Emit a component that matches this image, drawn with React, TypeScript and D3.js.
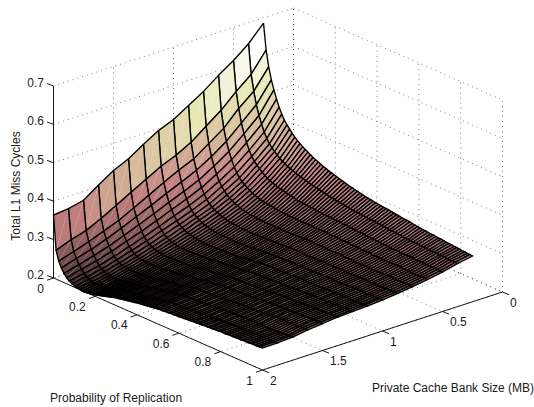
import React from 'react'
import * as d3 from 'd3'

const width = 534
const height = 407

// bank sizes of the mesh rows, MB
const bankSizes = [0.25, 0.375, 0.5, 0.625, 0.75, 0.875, 1, 1.125, 1.25, 1.375, 1.5, 1.625, 1.75, 1.875, 2]
// replication probability steps, numbered 0..80 over 80
const stepCount = 80

const cyclesAt025 = [
  .686,.619,.578,.547,.524,.503,.485,.470,.457,.448,.440,.432,.425,.419,.414,.409,.405,
  .401,.397,.393,.390,.387,.384,.381,.379,.376,.374,.372,.370,.368,.366,.364,.362,
  .360,.359,.357,.356,.354,.353,.351,.350,.349,.348,.347,.346,.345,.344,.344,.343,
  .342,.341,.340,.339,.338,.337,.337,.336,.335,.334,.333,.332,.331,.331,.330,.329,
  .329,.328,.327,.327,.326,.325,.325,.324,.323,.323,.322,.321,.321,.320,.320,.319]
const cyclesAt0375 = [
  .645,.568,.527,.495,.470,.450,.433,.419,.408,.400,.394,.388,.382,.377,.374,.370,.367,
  .365,.362,.360,.358,.356,.354,.352,.350,.349,.347,.346,.345,.343,.342,.340,.339,
  .338,.337,.336,.335,.334,.333,.332,.331,.330,.330,.329,.329,.328,.327,.327,.326,
  .326,.325,.324,.324,.323,.322,.322,.321,.321,.320,.319,.318,.318,.318,.317,.317,
  .317,.316,.316,.316,.315,.315,.315,.315,.314,.314,.314,.313,.313,.313,.312,.312]
const cyclesAt05 = [
  .614,.536,.495,.460,.435,.415,.398,.385,.375,.368,.362,.356,.350,.346,.343,.340,.337,
  .335,.333,.332,.330,.329,.327,.326,.324,.323,.322,.322,.321,.320,.320,.319,.318,
  .318,.317,.317,.317,.316,.316,.315,.315,.315,.314,.314,.313,.313,.312,.312,.311,
  .311,.311,.310,.310,.309,.309,.308,.308,.307,.307,.306,.306,.306,.306,.306,.305,
  .305,.305,.305,.305,.305,.304,.304,.304,.304,.304,.304,.303,.303,.303,.303,.303]
const cyclesAt0625 = [
  .588,.500,.456,.425,.402,.383,.367,.355,.345,.338,.333,.328,.324,.320,.317,.314,.312,
  .311,.310,.309,.308,.307,.306,.305,.304,.304,.304,.303,.303,.303,.303,.302,.302,
  .302,.302,.302,.302,.302,.302,.302,.302,.302,.302,.301,.301,.301,.301,.300,.300,
  .300,.300,.299,.299,.299,.299,.298,.298,.298,.298,.297,.297,.297,.297,.297,.297,
  .297,.297,.297,.297,.297,.297,.296,.296,.296,.296,.296,.296,.296,.296,.296,.296]
const cyclesAt075 = [
  .559,.471,.429,.398,.376,.358,.343,.332,.323,.316,.311,.307,.303,.300,.297,.295,.293,
  .292,.291,.291,.290,.290,.289,.289,.288,.288,.288,.288,.288,.289,.289,.289,.289,
  .289,.289,.290,.290,.290,.290,.291,.291,.291,.291,.291,.291,.291,.290,.290,.290,
  .290,.290,.290,.290,.290,.290,.290,.289,.289,.289,.289,.289,.289,.289,.289,.289,
  .289,.289,.289,.289,.289,.289,.290,.290,.290,.290,.290,.290,.290,.290,.290,.290]
const cyclesAt0875 = [
  .535,.442,.402,.375,.353,.336,.322,.311,.303,.297,.293,.289,.286,.284,.282,.280,.278,
  .278,.277,.277,.276,.276,.276,.275,.275,.275,.276,.276,.276,.277,.277,.278,.278,
  .278,.279,.279,.279,.280,.280,.281,.281,.281,.281,.281,.281,.281,.281,.281,.281,
  .281,.281,.282,.282,.282,.282,.282,.282,.282,.282,.282,.282,.282,.282,.282,.282,
  .282,.283,.283,.283,.283,.283,.284,.284,.284,.284,.284,.285,.285,.285,.285,.285]
const cyclesAt1 = [
  .511,.421,.385,.357,.336,.319,.305,.295,.288,.283,.279,.275,.272,.270,.268,.267,.266,
  .265,.265,.265,.265,.264,.264,.264,.264,.265,.265,.266,.266,.267,.267,.268,.268,
  .269,.269,.270,.271,.271,.272,.272,.273,.273,.273,.273,.274,.274,.274,.274,.274,
  .275,.275,.275,.275,.275,.276,.276,.276,.276,.276,.277,.277,.277,.277,.277,.277,
  .278,.278,.278,.278,.278,.279,.279,.279,.279,.279,.280,.280,.280,.280,.281,.281]
const cyclesAt1125 = [
  .495,.405,.366,.340,.320,.304,.291,.281,.274,.269,.265,.262,.260,.258,.257,.256,.255,
  .254,.254,.254,.254,.254,.254,.255,.255,.256,.256,.257,.257,.258,.258,.259,.260,
  .261,.262,.263,.264,.264,.265,.266,.267,.267,.267,.268,.268,.268,.269,.269,.269,
  .270,.270,.270,.271,.271,.271,.272,.272,.272,.272,.273,.273,.273,.273,.273,.274,
  .274,.274,.274,.275,.275,.275,.275,.276,.276,.276,.276,.277,.277,.277,.278,.278]
const cyclesAt125 = [
  .472,.384,.345,.322,.303,.288,.276,.268,.261,.256,.252,.250,.248,.246,.245,.245,.245,
  .245,.245,.245,.246,.246,.246,.247,.247,.248,.249,.250,.251,.251,.252,.253,.254,
  .255,.256,.257,.258,.258,.259,.260,.261,.261,.262,.262,.263,.263,.263,.264,.264,
  .265,.265,.265,.266,.266,.267,.267,.267,.268,.268,.269,.269,.269,.270,.270,.270,
  .271,.271,.271,.272,.272,.272,.273,.273,.273,.274,.274,.274,.275,.275,.275,.276]
const cyclesAt1375 = [
  .447,.363,.325,.305,.287,.273,.262,.254,.248,.244,.241,.239,.238,.237,.236,.236,.236,
  .236,.237,.237,.238,.238,.239,.239,.240,.241,.242,.243,.244,.245,.246,.247,.248,
  .249,.250,.251,.252,.253,.254,.255,.256,.256,.257,.257,.258,.258,.259,.259,.260,
  .260,.261,.261,.262,.262,.263,.263,.264,.264,.265,.265,.266,.266,.267,.267,.267,
  .268,.268,.269,.269,.269,.270,.270,.271,.271,.271,.272,.272,.273,.273,.273,.274]
const cyclesAt15 = [
  .429,.341,.305,.288,.272,.260,.249,.242,.236,.232,.230,.229,.228,.228,.228,.228,.228,
  .229,.230,.230,.231,.232,.232,.233,.234,.235,.236,.237,.238,.240,.241,.242,.243,
  .244,.245,.247,.248,.249,.250,.251,.252,.252,.253,.253,.254,.254,.255,.256,.256,
  .257,.257,.258,.259,.259,.260,.260,.261,.261,.262,.262,.263,.263,.264,.264,.265,
  .265,.266,.266,.267,.267,.268,.268,.268,.269,.269,.269,.269,.270,.270,.270,.270]
const cyclesAt1625 = [
  .404,.320,.290,.272,.257,.246,.236,.230,.225,.222,.220,.219,.219,.219,.219,.219,.220,
  .221,.222,.223,.224,.225,.226,.228,.229,.230,.231,.232,.234,.235,.236,.237,.238,
  .240,.241,.242,.243,.245,.246,.247,.248,.248,.249,.249,.250,.250,.251,.251,.252,
  .252,.253,.254,.254,.255,.255,.256,.256,.257,.258,.258,.259,.259,.260,.260,.261,
  .261,.262,.262,.263,.263,.263,.264,.264,.264,.265,.265,.265,.266,.266,.266,.266]
const cyclesAt175 = [
  .377,.301,.275,.258,.245,.234,.225,.219,.215,.212,.211,.210,.210,.210,.211,.212,.213,
  .214,.216,.217,.219,.220,.222,.223,.225,.226,.227,.229,.230,.231,.232,.234,.235,
  .236,.238,.239,.240,.241,.243,.244,.245,.245,.246,.246,.247,.247,.248,.248,.249,
  .249,.250,.250,.251,.251,.252,.252,.253,.253,.254,.254,.255,.255,.255,.255,.256,
  .256,.256,.256,.257,.257,.257,.257,.258,.258,.258,.258,.259,.259,.259,.260,.260]
const cyclesAt1875 = [
  .368,.290,.262,.247,.234,.225,.217,.212,.208,.205,.204,.204,.204,.204,.205,.206,.208,
  .210,.212,.214,.216,.218,.219,.221,.222,.223,.224,.226,.227,.228,.229,.231,.232,
  .233,.235,.236,.237,.238,.240,.241,.242,.242,.243,.243,.244,.244,.245,.245,.246,
  .246,.247,.247,.248,.248,.249,.249,.250,.250,.251,.251,.252,.252,.252,.253,.253,
  .253,.254,.254,.254,.255,.255,.255,.256,.256,.256,.257,.257,.257,.257,.258,.258]
const cyclesAt2 = [
  .364,.275,.250,.235,.224,.216,.210,.206,.203,.201,.200,.199,.199,.200,.201,.202,.204,
  .206,.208,.210,.212,.214,.216,.218,.220,.221,.223,.224,.225,.227,.228,.229,.231,
  .232,.233,.234,.235,.236,.237,.238,.239,.240,.240,.241,.241,.242,.242,.243,.243,
  .244,.244,.245,.245,.246,.247,.247,.248,.248,.249,.249,.250,.250,.251,.251,.252,
  .252,.252,.253,.253,.253,.254,.254,.254,.255,.255,.255,.256,.256,.256,.257,.257]

const cycleRows = [cyclesAt025, cyclesAt0375, cyclesAt05, cyclesAt0625, cyclesAt075, cyclesAt0875, cyclesAt1,
  cyclesAt1125, cyclesAt125, cyclesAt1375, cyclesAt15, cyclesAt1625, cyclesAt175, cyclesAt1875, cyclesAt2]

const cycleTicks = [0.2, 0.3, 0.4, 0.5, 0.6, 0.7]
const probTicks = [0, 0.2, 0.4, 0.6, 0.8, 1]
const sizeTicks = [0, 0.5, 1, 1.5, 2]

// oblique projection of the 3d box, one scale per screen direction
const probX = d3.scaleLinear().domain([0, 1]).range([0, 209])
const probY = d3.scaleLinear().domain([0, 1]).range([0, 92])
const sizeX = d3.scaleLinear().domain([2, 0]).range([0, 240])
const sizeY = d3.scaleLinear().domain([2, 0]).range([0, -78])
const cycleY = d3.scaleLinear().domain([0.2, 0.7]).range([0, -192])
const originX = 53.5
const originY = 278

type Pt = [number, number]
const project = (p: number, s: number, z: number): Pt => [
  originX + probX(p) + sizeX(s),
  originY + probY(p) + sizeY(s) + cycleY(z),
]
const probStep = d3.scaleLinear().domain([0, stepCount]).range([0, 1])
const line = d3.line()

// MATLAB pink colormap
const pink = (t: number) => {
  const r = Math.min(1, t / 0.375)
  const g = Math.max(0, Math.min(1, (t - 0.375) / 0.375))
  const b = Math.max(0, Math.min(1, (t - 0.75) / 0.25))
  const mix = (h: number) => Math.round(255 * Math.sqrt((2 * t + h) / 3))
  return `rgb(${mix(r)},${mix(g)},${mix(b)})`
}
const colorT = d3.scaleLinear().domain([0.199, 0.686]).range([0, 1]).clamp(true)

const gridStyle = { stroke: '#000', strokeWidth: 0.7, strokeDasharray: '1 4', fill: 'none', opacity: 0.75 }
const labelFont = { fontFamily: '"Liberation Sans", Arial, sans-serif', fontSize: 12, fill: '#1a1a1a' }

function Grid() {
  const segs: Pt[][] = []
  cycleTicks.forEach(z => {
    segs.push([project(0, 2, z), project(0, 0, z)])
    segs.push([project(0, 0, z), project(1, 0, z)])
  })
  sizeTicks.forEach(s => {
    segs.push([project(0, s, 0.2), project(0, s, 0.7)])
    segs.push([project(0, s, 0.2), project(1, s, 0.2)])
  })
  probTicks.forEach(p => {
    segs.push([project(p, 0, 0.2), project(p, 0, 0.7)])
    segs.push([project(p, 0, 0.2), project(p, 2, 0.2)])
  })
  return <g>{segs.map((d, i) => <path key={i} d={line(d) as string} {...gridStyle} />)}</g>
}

function Surface() {
  const faces: React.ReactElement[] = []
  // back corner first, so nearer faces paint over it
  for (let i = 0; i < stepCount; i++) {
    for (let j = 0; j < bankSizes.length - 1; j++) {
      const a = project(probStep(i), bankSizes[j], cycleRows[j][i])
      const b = project(probStep(i + 1), bankSizes[j], cycleRows[j][i + 1])
      const c = project(probStep(i + 1), bankSizes[j + 1], cycleRows[j + 1][i + 1])
      const d = project(probStep(i), bankSizes[j + 1], cycleRows[j + 1][i])
      const col = pink(colorT(cycleRows[j][i]))
      faces.push(
        <g key={`${i}-${j}`}>
          <path d={line([a, b, c]) + 'Z'} fill={col} />
          <path d={line([a, c, d]) + 'Z'} fill={col} />
          <path d={line([a, b, c, d, a]) as string} fill="none" stroke="#000" strokeWidth={1.35} />
        </g>
      )
    }
  }
  return <g>{faces}</g>
}

function Axes() {
  const ax = { stroke: '#000', strokeWidth: 0.9, fill: 'none' }
  return (
    <g>
      <path d={line([project(0, 2, 0.2), project(0, 2, 0.7)]) as string} {...ax} />
      <path d={line([project(0, 2, 0.2), project(1, 2, 0.2)]) as string} {...ax} />
      <path d={line([project(1, 2, 0.2), project(1, 0, 0.2)]) as string} {...ax} />
      {cycleTicks.map(z => {
        const [x, y] = project(0, 2, z)
        return (
          <g key={z}>
            <path d={line([[x, y], [x - 6.5, y - 2.5]]) as string} {...ax} />
            <text x={44} y={y - 3} textAnchor="end" dominantBaseline="central" {...labelFont}>{z.toFixed(1)}</text>
          </g>
        )
      })}
      {probTicks.map(p => {
        const [x, y] = project(p, 2, 0.2)
        return (
          <g key={p}>
            <path d={line([[x, y], [x - 6.5, y + 2.2]]) as string} {...ax} />
            <text x={x - 9.5} y={y + 10.5} textAnchor="end" dominantBaseline="central" {...labelFont}>{p}</text>
          </g>
        )
      })}
      {sizeTicks.map(s => {
        const [x, y] = project(1, s, 0.2)
        return (
          <g key={s}>
            <path d={line([[x, y], [x + 6.5, y + 2.7]]) as string} {...ax} />
            <text x={x + 7.5} y={y + 10.5} textAnchor="start" dominantBaseline="central" {...labelFont}>{s}</text>
          </g>
        )
      })}
      <text transform="translate(16,186) rotate(-90)" textAnchor="middle" dominantBaseline="central" {...labelFont}>Total L1 Miss Cycles</text>
      <text x={50} y={398} dominantBaseline="central" {...labelFont}>Probability of Replication</text>
      <text x={372} y={388} dominantBaseline="central" {...labelFont}>Private Cache Bank Size (MB)</text>
    </g>
  )
}

export default function App() {
  return (
    <svg width={width} height={height} style={{ position: 'absolute', left: 0, top: 0, display: 'block', background: '#fff' }}>
      <Grid />
      <Surface />
      <Axes />
    </svg>
  )
}
